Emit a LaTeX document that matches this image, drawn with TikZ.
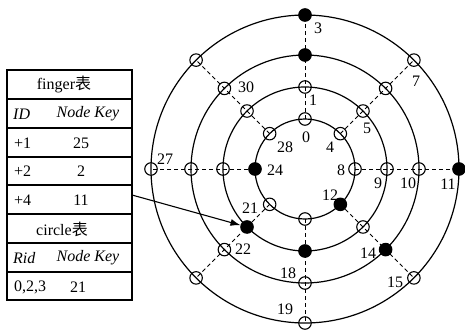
\documentclass[tikz,border=0pt]{standalone}
\usepackage{fontspec}
\setmainfont{Liberation Serif}
\newfontfamily\cjkfont{Noto Sans CJK SC}
\usetikzlibrary{arrows.meta}
\begin{document}
\begin{tikzpicture}[x=1pt,y=-1pt,
  font=\fontsize{16}{19}\selectfont,
  ring/.style={line width=1.2pt},
  ray/.style={dash pattern=on 4pt off 3pt, line width=0.9pt},
  open/.style={circle, draw, line width=1.1pt, minimum size=12.5pt, inner sep=0pt},
  full/.style={open, fill=black},
  lbl/.style={inner sep=0pt},
  tbl/.style={line width=1.2pt},
  ptr/.style={line width=1.1pt, -{Latex[length=10pt,width=7pt]}}]
\useasboundingbox (0,0) rectangle (465,329);
\coordinate (C) at (305,169);
% nodes on the four rings
\foreach \i/\r/\a/\s in {
  1/50/0/open,1/50/45/open,1/50/90/open,1/50/135/open,1/50/180/full,1/50/225/open,1/50/270/open,1/50/315/full,
  2/82/0/open,2/82/45/open,2/82/90/open,2/82/135/open,2/82/180/open,2/82/225/full,2/82/270/full,2/82/315/open,
  3/114/0/open,3/114/45/open,3/114/90/full,3/114/135/open,3/114/180/open,3/114/225/open,3/114/270/open,3/114/315/full,
  4/154/0/full,4/154/45/open,4/154/90/full,4/154/135/open,4/154/180/open,4/154/225/open,4/154/270/open,4/154/315/open}
  \node[\s] (n\i-\a) at ([shift={(\a:\r pt)}]C) {};
% rings
\foreach \r in {50,82,114,154}
  \draw[ring] (C) circle[radius=\r pt];
% dashed rays
\foreach \a in {0,45,...,315}
  \draw[ray] (n1-\a.center) -- (n4-\a.center);
% ring labels
\node[lbl] (l0) at (306,137) {0};
\node[lbl] (l4) at (330,147) {4};
\node[lbl] (l8) at (341,170) {8};
\node[lbl] (l12) at (330,195) {12};
\node[lbl] (l24) at (275,170) {24};
\node[lbl] (l28) at (285,147) {28};
\node[lbl] (l1) at (313,100) {1};
\node[lbl] (l5) at (367,128) {5};
\node[lbl] (l9) at (378,183) {9};
\node[lbl] (l21) at (250,208) {21};
\node[lbl] (l10) at (408,183) {10};
\node[lbl] (l14) at (368,253) {14};
\node[lbl] (l18) at (288,273) {18};
\node[lbl] (l22) at (243,249) {22};
\node[lbl] (l30) at (246,87) {30};
\node[lbl] (l3) at (318,28) {3};
\node[lbl] (l7) at (416,81) {7};
\node[lbl] (l11) at (448,184) {11};
\node[lbl] (l15) at (395,282) {15};
\node[lbl] (l19) at (285,309) {19};
\node[lbl] (l27) at (165,159) {27};
% table
\draw[tbl] (7,70) rectangle (132,300);
\foreach \y in {99,128,157,185,214,243,272}
  \draw[tbl] (7,\y) -- (132,\y);
\draw[line width=2.5pt] (6,300) -- (133,300);
\node[lbl] (t1) at (64,85) {finger{\cjkfont 表}};
\node[lbl, anchor=west] (t2a) at (13,114) {\itshape ID};
\node[lbl] (t2b) at (88,114) {\itshape Node Key};
\node[lbl, anchor=west] (t3a) at (14,143) {+1};
\node[lbl] (t3b) at (81,143) {25};
\node[lbl, anchor=west] (t4a) at (14,171) {+2};
\node[lbl] (t4b) at (81,171) {2};
\node[lbl, anchor=west] (t5a) at (14,200) {+4};
\node[lbl] (t5b) at (81,200) {11};
\node[lbl] (t6) at (62,229) {circle{\cjkfont 表}};
\node[lbl, anchor=west] (t7a) at (13,258) {\itshape Rid};
\node[lbl] (t7b) at (88,258) {\itshape Node Key};
\node[lbl, anchor=west] (t8a) at (14,287) {0,2,3};
\node[lbl] (t8b) at (78,287) {21};
% pointer
\coordinate (ps) at (132,195);
\draw[ptr] (ps) -- (n2-225);
\end{tikzpicture}
\end{document}
